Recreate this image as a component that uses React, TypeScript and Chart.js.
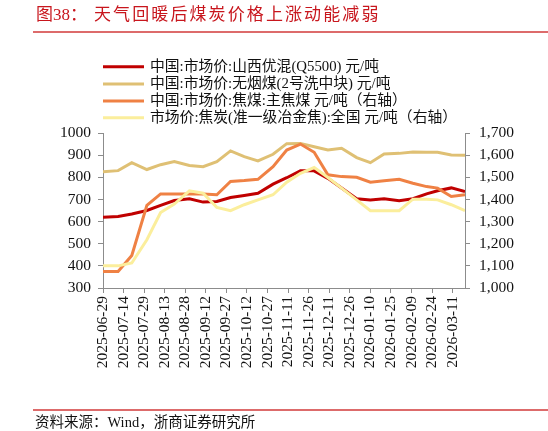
import React, { useEffect, useRef } from "react";
import { Chart, registerables } from "chart.js";

Chart.register(...registerables);

// ---------- data ----------
const dates = [
  "2025-06-29", "2025-07-10", "2025-07-20", "2025-07-31", "2025-08-10", "2025-08-20",
  "2025-08-31", "2025-09-10", "2025-09-20", "2025-09-30", "2025-10-10", "2025-10-20",
  "2025-10-31", "2025-11-10", "2025-11-20", "2025-11-30", "2025-12-10", "2025-12-20",
  "2025-12-31", "2026-01-10", "2026-01-20", "2026-01-31", "2026-02-10", "2026-02-20",
  "2026-02-28", "2026-03-10", "2026-03-20",
];

// 中国:市场价:山西优混(Q5500) 元/吨 (left axis)
const shanxiMix = [
  620, 623, 634, 650, 673, 695, 703, 688, 691, 709, 718, 728, 769, 798,
  829, 829, 795, 752, 703, 698, 703, 694, 703, 725, 739, 752, 736,
];
// 中国:市场价:无烟煤(2号洗中块) 元/吨 (left axis)
const anthracite = [
  825, 830, 866, 835, 857, 871, 853, 848, 871, 919, 893, 874, 904, 952,
  953, 938, 923, 931, 889, 866, 905, 908, 914, 913, 913, 901, 899,
];
// 中国:市场价:焦煤:主焦煤 元/吨 (right axis)
const cokingCoal = [
  1075, 1075, 1147, 1373, 1425, 1425, 1424, 1424, 1421, 1481, 1485, 1491, 1548, 1623,
  1650, 1613, 1511, 1503, 1500, 1478, 1484, 1491, 1473, 1458, 1451, 1413, 1421,
];
// 市场价:焦炭(准一级冶金焦):全国 元/吨 (right axis)
const coke = [
  1100, 1100, 1113, 1218, 1341, 1379, 1439, 1428, 1364, 1349, 1376, 1398, 1421, 1478,
  1518, 1544, 1499, 1451, 1398, 1349, 1349, 1349, 1401, 1401, 1398, 1376, 1349,
];

const seriesLabels = [
  "中国:市场价:山西优混(Q5500) 元/吨",
  "中国:市场价:无烟煤(2号洗中块) 元/吨",
  "中国:市场价:焦煤:主焦煤 元/吨（右轴）",
  "市场价:焦炭(准一级冶金焦):全国 元/吨（右轴）",
];
const seriesColors = ["#C00000", "#DFC074", "#EF8144", "#FBEE9C"];

const xTickLabels = [
  "2025-06-29", "2025-07-14", "2025-07-29", "2025-08-13", "2025-08-28", "2025-09-12",
  "2025-09-27", "2025-10-12", "2025-10-27", "2025-11-11", "2025-11-26", "2025-12-11",
  "2025-12-26", "2026-01-10", "2026-01-25", "2026-02-09", "2026-02-24", "2026-03-11",
];
const leftMin = 300;
const leftMax = 1000;
const rightMin = 1000;
const rightMax = 1700;
const tickStep = 100;

const titlePrefix = "图38：";
const titleText = "天气回暖后煤炭价格上涨动能减弱";
const sourceText = "资料来源：Wind，浙商证券研究所";

// ---------- helpers ----------
const DAY = 86400000;
const origin = Date.parse(xTickLabels[0] + "T00:00:00Z");
const toDay = (s: string) => Math.round((Date.parse(s + "T00:00:00Z") - origin) / DAY);
const pts = (vals: number[]) => vals.map((y, i) => ({ x: toDay(dates[i]), y }));

const SERIF = "'Liberation Serif', 'Times New Roman', 'Noto Sans CJK SC', serif";
const CJK = "'Liberation Serif', 'Noto Sans CJK SC', serif";

const decorPlugin = {
  id: "decor",
  afterDraw(chart: any) {
    const ctx = chart.ctx as CanvasRenderingContext2D;
    ctx.save();
    // title
    ctx.fillStyle = "#C8161D";
    ctx.textBaseline = "middle";
    ctx.textAlign = "left";
    ctx.font = `17px ${CJK}`;
    ctx.fillText(titlePrefix, 36, 16);
    let x = 94;
    for (const ch of Array.from(titleText)) {
      ctx.fillText(ch, x, 16);
      x += 19.1;
    }
    // title rule
    ctx.strokeStyle = "#D23A3A";
    ctx.lineWidth = 1.3;
    ctx.beginPath();
    ctx.moveTo(33, 32);
    ctx.lineTo(548, 32);
    ctx.stroke();

    // legend
    const rowY = [66.7, 84, 100.9, 117.8];
    ctx.font = `14.8px ${CJK}`;
    ctx.fillStyle = "#111";
    chart.data.datasets.forEach((ds: any, i: number) => {
      const y = rowY[i];
      ctx.strokeStyle = ds.borderColor;
      ctx.lineWidth = 3;
      ctx.beginPath();
      ctx.moveTo(103, y);
      ctx.lineTo(144, y);
      ctx.stroke();
      ctx.fillText(ds.label, 150, y);
    });

    // footer rule + source
    ctx.strokeStyle = "#D23A3A";
    ctx.lineWidth = 1.3;
    ctx.beginPath();
    ctx.moveTo(33, 410);
    ctx.lineTo(548, 410);
    ctx.stroke();
    ctx.fillStyle = "#111";
    ctx.font = `14.5px ${CJK}`;
    ctx.fillText(sourceText, 35, 423);
    ctx.restore();
  },
};

export default function App() {
  const ref = useRef<HTMLCanvasElement | null>(null);

  useEffect(() => {
    if (!ref.current) return;
    const tickFont = { family: SERIF, size: 15.5 };
    const chart = new Chart(ref.current, {
      type: "line",
      data: {
        datasets: [
          { label: seriesLabels[0], data: pts(shanxiMix), yAxisID: "yL", borderColor: seriesColors[0], order: 2 },
          { label: seriesLabels[1], data: pts(anthracite), yAxisID: "yL", borderColor: seriesColors[1], order: 3 },
          { label: seriesLabels[2], data: pts(cokingCoal), yAxisID: "yR", borderColor: seriesColors[2], order: 1 },
          { label: seriesLabels[3], data: pts(coke), yAxisID: "yR", borderColor: seriesColors[3], order: 0 },
        ].map((d) => ({
          ...d,
          backgroundColor: d.borderColor,
          borderWidth: 3,
          pointRadius: 0,
          tension: 0,
          fill: false,
        })),
      },
      options: {
        animation: false,
        responsive: false,
        devicePixelRatio: window.devicePixelRatio || 1,
        layout: { padding: { top: 133, left: 0, right: 0, bottom: 0 } },
        plugins: {
          legend: { display: false },
          title: { display: false },
          tooltip: { enabled: false },
        },
        scales: {
          x: {
            type: "linear",
            min: toDay(dates[0]),
            max: toDay(dates[dates.length - 1]),
            afterBuildTicks: (s: any) => {
              s.ticks = xTickLabels.map((l) => ({ value: toDay(l) }));
            },
            afterFit: (s: any) => {
              s.height = 143;
            },
            ticks: {
              autoSkip: false,
              maxRotation: 90,
              minRotation: 90,
              padding: 3,
              color: "#111",
              font: tickFont,
              callback: (v: any) => {
                const l = xTickLabels.find((t) => toDay(t) === Number(v));
                return l ?? "";
              },
            },
            grid: { drawOnChartArea: false, drawTicks: true, tickLength: 5, color: "#8c8c8c" },
            border: { color: "#8c8c8c", width: 1 },
          },
          yL: {
            type: "linear",
            position: "left",
            min: leftMin,
            max: leftMax,
            afterFit: (s: any) => {
              s.width = 103;
            },
            ticks: {
              stepSize: tickStep,
              padding: 7,
              color: "#111",
              font: tickFont,
              callback: (v: any) => String(v),
            },
            grid: { drawOnChartArea: false, tickLength: 5, color: "#8c8c8c" },
            border: { color: "#8c8c8c", width: 1 },
          },
          yR: {
            type: "linear",
            position: "right",
            min: rightMin,
            max: rightMax,
            afterFit: (s: any) => {
              s.width = 83;
            },
            ticks: {
              stepSize: tickStep,
              padding: 9,
              color: "#111",
              font: tickFont,
              callback: (v: any) => Number(v).toLocaleString("en-US"),
            },
            grid: { drawOnChartArea: false, tickLength: 5, color: "#8c8c8c" },
            border: { color: "#8c8c8c", width: 1 },
          },
        },
      } as any,
      plugins: [decorPlugin],
    });
    return () => chart.destroy();
  }, []);

  return (
    <div style={{ position: "fixed", left: 0, top: 0, width: 548, height: 431, background: "#fff" }}>
      <canvas ref={ref} width={548} height={431} style={{ display: "block" }} />
    </div>
  );
}
